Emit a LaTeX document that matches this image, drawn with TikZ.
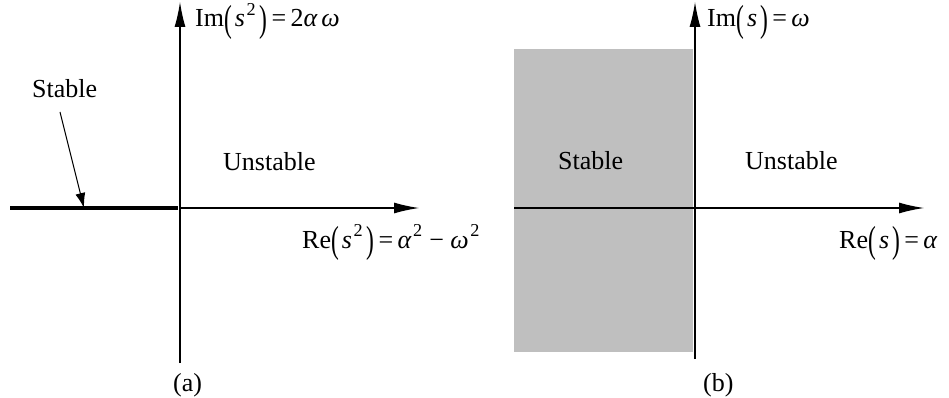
\documentclass[tikz,border=0pt]{standalone}
\usepackage{fontspec}
\usepackage{graphicx}
\setmainfont{Liberation Serif}
\usetikzlibrary{arrows.meta}
\newcommand{\lpr}{\raisebox{-0.16em}{\scalebox{0.9}[1.45]{(}}\kern0.12em}
\newcommand{\rpr}{\kern0.12em\raisebox{-0.16em}{\scalebox{0.9}[1.45]{)}}}
\newcommand{\sqr}{\kern0.06em\raisebox{0.1em}{\textsuperscript{2}}}
\begin{document}
\begin{tikzpicture}[x=1pt,y=-1pt,
  lbl/.style={font=\fontsize{26}{30}\selectfont, inner sep=0pt, anchor=base west},
  axis/.style={line width=1.2pt, -{Latex[length=25pt,width=11pt]}},
  thinarrow/.style={line width=1pt, -{Latex[length=15pt,width=10pt]}}]
\useasboundingbox (0,0) rectangle (949,398);
% panel (a)
\coordinate (a0) at (180,208);
\coordinate (avb) at (180,363);
\coordinate (avt) at (180,2);
\coordinate (aht) at (419,208);
\coordinate (athl) at (10,208);
\coordinate (athr) at (178,208);
\draw[axis] (avb) -- (avt);
\draw[axis] (a0) -- (aht);
\draw[line width=4pt] (athl) -- (athr);
\node[lbl] (stA) at (32,98) {Stable};
\coordinate (stAs) at (60,112);
\coordinate (stAe) at (84,208);
\draw[thinarrow] (stAs) -- (stAe);
\node[lbl] (unA) at (223,171) {Unstable};
\node[lbl] (imA) at (195,27) {Im\lpr\textit{s}\sqr\rpr\,=\,2\textit{α\,ω}};
\node[lbl] (reA) at (302,248) {Re\lpr\textit{s}\sqr\rpr\,=\,\textit{α}\sqr\ −\ \textit{ω}\sqr};
\node[lbl] (capA) at (173,391) {(a)};
% panel (b)
\fill[black!25] (514,49) rectangle (693,352);
\coordinate (b0) at (514,208);
\coordinate (bht) at (924,208);
\coordinate (bvb) at (695,359);
\coordinate (bvt) at (695,2);
\draw[axis] (bvb) -- (bvt);
\draw[axis] (b0) -- (bht);
\node[lbl] (stB) at (558,170) {Stable};
\node[lbl] (unB) at (745,170) {Unstable};
\node[lbl] (imB) at (707,27) {Im\lpr\textit{s}\rpr\,=\,\textit{ω}};
\node[lbl] (reB) at (839,248) {Re\lpr\textit{s}\rpr\,=\,\textit{α}};
\node[lbl] (capB) at (703,391) {(b)};
\end{tikzpicture}
\end{document}
